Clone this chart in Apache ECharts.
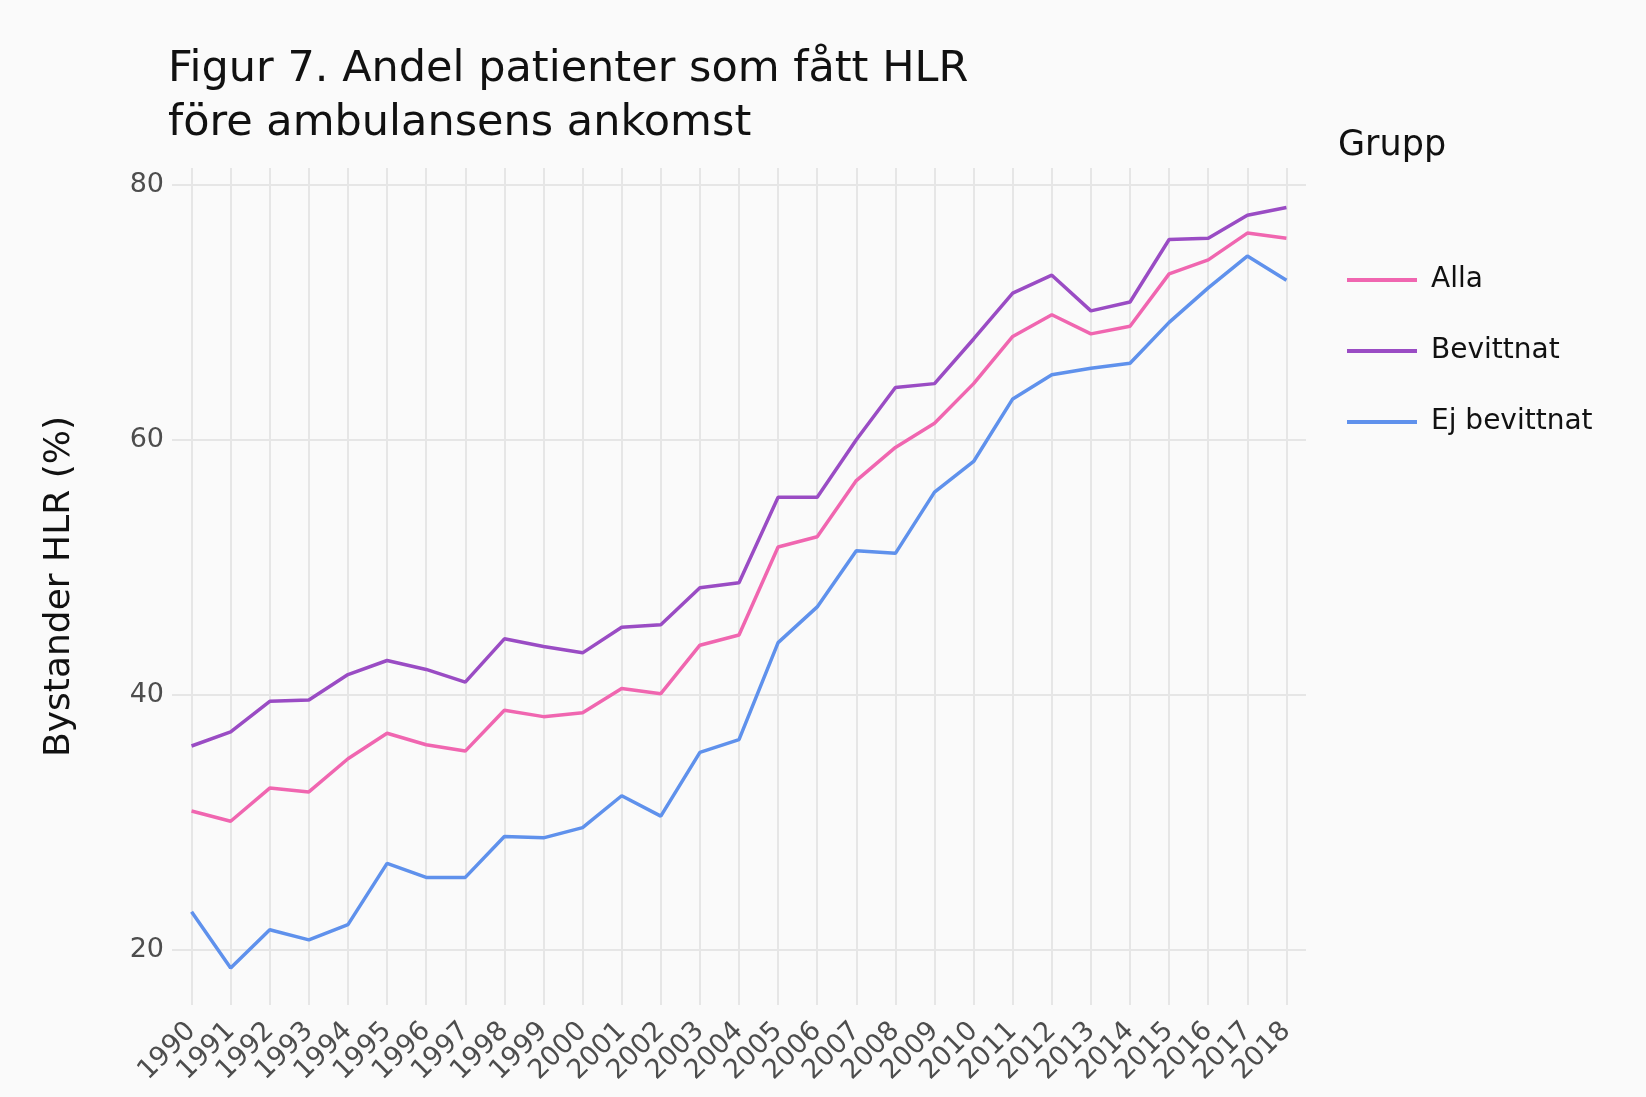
<!DOCTYPE html>
<html>
<head>
<meta charset="utf-8">
<title>Figur 7</title>
<script src="https://cdn.jsdelivr.net/npm/echarts@6/dist/echarts.min.js"></script>
<style>
  html, body { margin: 0; padding: 0; background: #fafafa; }
  #chart { width: 1646px; height: 1097px; }
</style>
</head>
<body>
<div id="chart"></div>
<script>
// år på x-axeln
const years = [1990, 1991, 1992, 1993, 1994, 1995, 1996, 1997, 1998, 1999,
  2000, 2001, 2002, 2003, 2004, 2005, 2006, 2007, 2008, 2009,
  2010, 2011, 2012, 2013, 2014, 2015, 2016, 2017, 2018];

// andel (%) per grupp
const alla = [30.9, 30.1, 32.7, 32.4, 35.0, 37.0, 36.1, 35.6, 38.8, 38.3,
  38.6, 40.5, 40.1, 43.9, 44.7, 51.6, 52.4, 56.8, 59.4, 61.3,
  64.4, 68.1, 69.8, 68.3, 68.9, 73.0, 74.1, 76.2, 75.8];
const bevittnat = [36.0, 37.1, 39.5, 39.6, 41.6, 42.7, 42.0, 41.0, 44.4, 43.8,
  43.3, 45.3, 45.5, 48.4, 48.8, 55.5, 55.5, 60.0, 64.1, 64.4,
  67.9, 71.5, 72.9, 70.1, 70.8, 75.7, 75.8, 77.6, 78.2];
const ejBevittnat = [23.0, 18.6, 21.6, 20.8, 22.0, 26.8, 25.7, 25.7, 28.9, 28.8,
  29.6, 32.1, 30.5, 35.5, 36.5, 44.1, 46.9, 51.3, 51.1, 55.9,
  58.3, 63.2, 65.1, 65.6, 66.0, 69.2, 71.9, 74.4, 72.5];

const yTicks = [20, 40, 60, 80];

function pairs(vals) {
  return years.map((y, i) => [y, vals[i]]);
}

const font = "'DejaVu Sans', Verdana, sans-serif";
const gridColor = "#e6e6e6";

const option = {
  backgroundColor: "#fafafa",
  textStyle: { fontFamily: font },
  title: [
    {
      text: "Figur 7. Andel patienter som fått HLR\nföre ambulansens ankomst",
      left: 163,
      top: 38,
      textStyle: { fontSize: 43, lineHeight: 54, fontWeight: "normal", color: "#111", fontFamily: font },
    },
    {
      text: "Grupp",
      left: 1333,
      top: 123,
      textStyle: { fontSize: 35, fontWeight: "normal", color: "#111", fontFamily: font },
    },
  ],
  legend: {
    orient: "vertical",
    left: 1342,
    top: 261,
    itemWidth: 70,
    itemHeight: 30,
    itemGap: 43,
    icon: "path://M0,0 L70,0 L70,4 L0,4 Z",
    textStyle: { fontSize: 28, color: "#111", padding: [0, 0, 0, 9], fontFamily: font },
    data: ["Alla", "Bevittnat", "Ej bevittnat"],
  },
  grid: { left: 172, right: 340, top: 168, bottom: 1097 - 1005 },
  xAxis: {
    type: "value",
    min: 1989.5,
    max: 2018.5,
    axisLine: { show: false },
    axisTick: { show: false, customValues: years },
    splitLine: { show: true, lineStyle: { color: gridColor, width: 2 } },
    axisLabel: {
      customValues: years,
      rotate: 45,
      margin: 22,
      fontSize: 27,
      color: "#4d4d4d",
      fontFamily: font,
      formatter: (v) => String(v),
    },
  },
  yAxis: {
    type: "value",
    min: 15.7,
    max: 81.3,
    name: "Bystander HLR (%)",
    nameLocation: "middle",
    nameGap: 94,
    nameTextStyle: { fontSize: 36, color: "#111", fontFamily: font },
    axisLine: { show: false },
    axisTick: { show: false, customValues: yTicks },
    splitLine: { show: true, lineStyle: { color: gridColor, width: 2 } },
    axisLabel: {
      customValues: yTicks,
      margin: 8,
      fontSize: 27,
      color: "#4d4d4d",
      fontFamily: font,
    },
  },
  series: [
    {
      name: "Alla",
      type: "line",
      data: pairs(alla),
      symbol: "none",
      color: "#f066b0",
      lineStyle: { width: 3.5 },
    },
    {
      name: "Bevittnat",
      type: "line",
      data: pairs(bevittnat),
      symbol: "none",
      color: "#9a4cc4",
      lineStyle: { width: 3.5 },
    },
    {
      name: "Ej bevittnat",
      type: "line",
      data: pairs(ejBevittnat),
      symbol: "none",
      color: "#5f91ec",
      lineStyle: { width: 3.5 },
    },
  ],
};

const myChart = echarts.init(document.getElementById("chart"));
myChart.setOption(option);
</script>
</body>
</html>
